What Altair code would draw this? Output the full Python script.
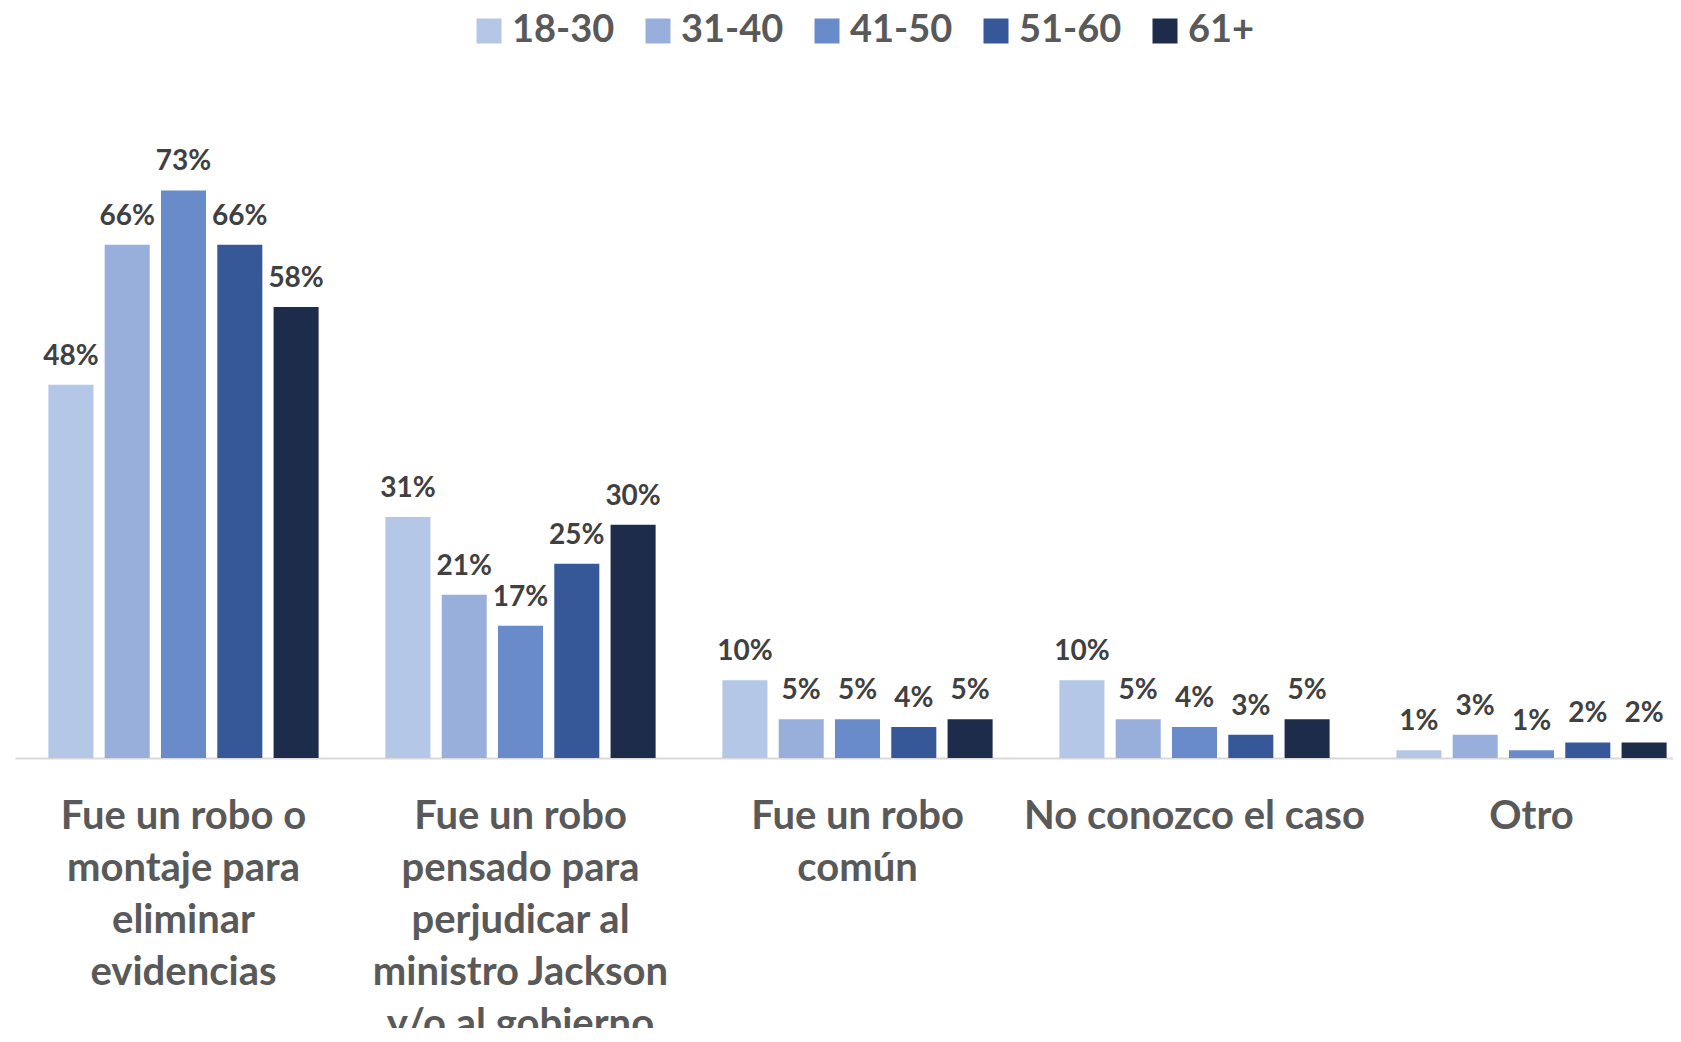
import altair as alt
import pandas as pd

categories = [
    "Fue un robo o\nmontaje para\neliminar\nevidencias",
    "Fue un robo\npensado para\nperjudicar al\nministro Jackson\ny/o al gobierno",
    "Fue un robo\ncomún",
    "No conozco el caso",
    "Otro",
]
groups = ["18-30", "31-40", "41-50", "51-60", "61+"]
values_18_30 = [48, 31, 10, 10, 1]
values_31_40 = [66, 21, 5, 5, 3]
values_41_50 = [73, 17, 5, 4, 1]
values_51_60 = [66, 25, 4, 3, 2]
values_61 = [58, 30, 5, 5, 2]
colors = ["#B4C7E7", "#98AFDB", "#6A8BC9", "#365898", "#1D2C4B"]

series = [values_18_30, values_31_40, values_41_50, values_51_60, values_61]
rows = []
for g, vals in zip(groups, series):
    for c, v in zip(categories, vals):
        rows.append({"categoria": c, "edad": g, "valor": v})
df = pd.DataFrame(rows)

x_enc = alt.X(
    "categoria:N",
    sort=categories,
    scale=alt.Scale(range=[0, 1685], paddingInner=0, paddingOuter=0),
    axis=alt.Axis(
        title=None,
        labelExpr="split(datum.label, '\\n')",
        labelFont="Lato",
        labelFontWeight="bold",
        labelFontSize=40,
        labelLineHeight=52,
        labelColor="#595959",
        labelPadding=38,
        labelAngle=0,
        labelLimit=500,
        labelOverlap=False,
        ticks=False,
        domainColor="#D9D9D9",
        domainWidth=2,
        grid=False,
    ),
)
xoff = alt.XOffset(
    "edad:N", sort=groups, scale=alt.Scale(paddingInner=0.2, paddingOuter=0.593)
)
y_enc = alt.Y("valor:Q", scale=alt.Scale(domain=[0, 80]), axis=None)

bars = alt.Chart(df).mark_bar().encode(
    x=x_enc,
    xOffset=xoff,
    y=y_enc,
    color=alt.Color(
        "edad:N",
        sort=groups,
        scale=alt.Scale(domain=groups, range=colors),
        legend=alt.Legend(
            title=None,
            orient="none",
            legendX=455,
            legendY=-124,
            direction="horizontal",
            columns=5,
            symbolType="square",
            symbolSize=625,
            symbolStrokeWidth=0,
            symbolOpacity=1,
            labelFont="Lato",
            labelFontWeight="bold",
            labelFontSize=38,
            labelColor="#595959",
            labelOffset=4,
            columnPadding=24,
        ),
    ),
)

labels = alt.Chart(df).transform_calculate(
    etiqueta="datum.valor + '%'"
).mark_text(
    font="Lato",
    fontWeight="bold",
    fontSize=28,
    color="#404040",
    baseline="alphabetic",
    dy=-20,
).encode(
    x=alt.X("categoria:N", sort=categories),
    xOffset=alt.XOffset("edad:N", sort=groups),
    y=alt.Y("valor:Q"),
    text="etiqueta:N",
)

chart = (
    alt.layer(bars, labels)
    .properties(
        width=1658,
        height=622,
        autosize=alt.AutoSizeParams(type="none"),
        padding={"left": 7, "top": 128, "right": 0, "bottom": 270},
    )
    .configure(font="Lato")
    .configure_view(stroke=None, strokeWidth=0)
)

chart.save("out.html", embed_options={"renderer": "svg", "actions": False})
